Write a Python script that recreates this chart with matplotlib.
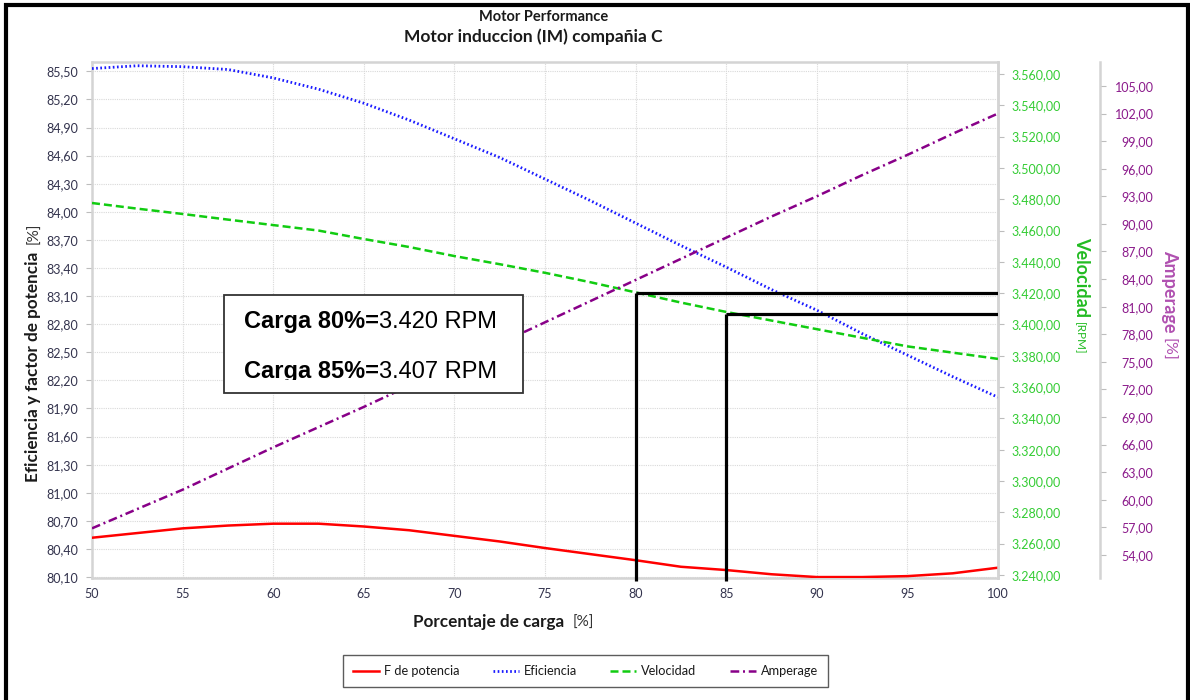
import matplotlib
matplotlib.use('Agg')
import matplotlib.pyplot as plt
import matplotlib.patches as mpatches
from matplotlib.lines import Line2D
from matplotlib.ticker import FixedLocator, FuncFormatter
from matplotlib.transforms import Bbox

# ---------------- data ----------------
carga = [50, 52.5, 55, 57.5, 60, 62.5, 65, 67.5, 70, 72.5, 75,
         77.5, 80, 82.5, 85, 87.5, 90, 92.5, 95, 97.5, 100]
f_potencia = [80.52, 80.57, 80.62, 80.65, 80.67, 80.67, 80.64, 80.60, 80.54, 80.48, 80.41,
              80.345, 80.28, 80.21, 80.175, 80.13, 80.10, 80.10, 80.11, 80.14, 80.20]
eficiencia = [85.53, 85.56, 85.55, 85.52, 85.43, 85.31, 85.16, 84.98, 84.78, 84.58, 84.35,
              84.12, 83.88, 83.64, 83.41, 83.17, 82.95, 82.70, 82.47, 82.24, 82.02]
velocidad = [3477.6, 3474.0, 3470.6, 3467.0, 3463.5, 3460.0, 3454.6, 3449.5, 3443.7, 3438.5, 3433.0,
             3427.0, 3420.5, 3414.0, 3408.0, 3402.5, 3397.0, 3391.5, 3386.0, 3382.0, 3378.0]
amperage = [56.9, 59.0, 61.1, 63.4, 65.7, 67.9, 70.1, 72.4, 74.7, 77.0, 79.3,
            81.6, 83.9, 86.2, 88.5, 90.8, 93.0, 95.3, 97.5, 99.8, 102.0]

x_ticks = [50, 55, 60, 65, 70, 75, 80, 85, 90, 95, 100]
left_ticks = [80.10, 80.40, 80.70, 81.00, 81.30, 81.60, 81.90, 82.20, 82.50, 82.80,
              83.10, 83.40, 83.70, 84.00, 84.30, 84.60, 84.90, 85.20, 85.50]
vel_ticks = [3240, 3260, 3280, 3300, 3320, 3340, 3360, 3380, 3400, 3420,
             3440, 3460, 3480, 3500, 3520, 3540, 3560]
amp_ticks = [54, 57, 60, 63, 66, 69, 72, 75, 78, 81, 84, 87, 90, 93, 96, 99, 102, 105]

marcas_carga = [80, 85]
marcas_rpm = [3420, 3407]

title1 = "Motor Performance"
title2 = "Motor induccion (IM) compañia C"
serie_names = ["F de potencia", "Eficiencia", "Velocidad", "Amperage"]

# ---------------- figure ----------------
W, H = 1190, 700
plt.rcParams['font.family'] = ['Lato', 'DejaVu Sans']
fig = plt.figure(figsize=(W / 100, H / 100), dpi=100)
fig.patch.set_facecolor('white')


def fx(px):
    return px / W


def fy(py):
    return 1 - py / H


L, R, T, B = 92, 998, 62, 578
ax = fig.add_axes([fx(L), fy(B), fx(R) - fx(L), fy(T) - fy(B)])
ax2 = ax.twinx()
ax3 = ax.twinx()
ax3.spines['right'].set_position(('axes', 1 + 102 / (R - L)))

frame_col = '#d4d4d4'
tick_col = '#bdbdbd'
lab_col = '#33334d'
green_txt = '#33cc33'
purple_txt = '#8b1a8b'

for a in (ax, ax2, ax3):
    for s in a.spines.values():
        s.set_color(frame_col)
        s.set_linewidth(1.8)
for a in (ax2, ax3):
    for k in ('top', 'bottom', 'left'):
        a.spines[k].set_visible(False)

# lines
red, = ax.plot(carga, f_potencia, color='#ff0000', lw=1.8, zorder=3)
blue, = ax.plot(carga, eficiencia, color='#1a1aff', lw=2.0, ls=(0, (0.6, 0.9)), zorder=3)
green, = ax2.plot(carga, velocidad, color='#11cc11', lw=1.8, ls=(0, (3.2, 1.6)), zorder=3)
purple, = ax3.plot(carga, amperage, color='#880088', lw=1.8, ls=(0, (3.5, 1.5, 0.8, 1.5)), zorder=3)

# marker lines for 80% and 85%
for c, r in zip(marcas_carga, marcas_rpm):
    ln, = ax2.plot([c, c], [3236, r], color='black', lw=2.3, zorder=6, solid_capstyle='butt')
    ln.set_clip_on(False)
    ax2.plot([c, 100], [r, r], color='black', lw=2.3, zorder=6, solid_capstyle='butt')

ax.set_xlim(50, 100)
ax.set_ylim(80.09, 85.60)
ax2.set_ylim(3238, 3567.7)
ax3.set_ylim(51.5, 107.6)

ax.xaxis.set_major_locator(FixedLocator(x_ticks))
ax.yaxis.set_major_locator(FixedLocator(left_ticks))
ax2.yaxis.set_major_locator(FixedLocator(vel_ticks))
ax3.yaxis.set_major_locator(FixedLocator(amp_ticks))


def fmt_left(v, p):
    return f"{v:.2f}".replace('.', ',')


def fmt_vel(v, p):
    s = f"{v:,.2f}"
    return s.replace(',', 'X').replace('.', ',').replace('X', '.')


ax.xaxis.set_major_formatter(FuncFormatter(lambda v, p: f"{v:g}"))
ax.yaxis.set_major_formatter(FuncFormatter(fmt_left))
ax2.yaxis.set_major_formatter(FuncFormatter(fmt_vel))
ax3.yaxis.set_major_formatter(FuncFormatter(fmt_left))

ax.grid(True, color='#d9d9d9', ls=(0, (1, 1)), lw=0.8)
ax.set_axisbelow(True)

ax.tick_params(axis='x', length=0, pad=7, labelsize=9, labelcolor=lab_col)
ax.tick_params(axis='y', length=4, width=0.8, color=tick_col, pad=6, labelsize=9, labelcolor=lab_col)
ax2.tick_params(axis='y', length=4, width=0.8, color=tick_col, pad=6, labelsize=9, labelcolor=green_txt)
ax3.tick_params(axis='y', length=4, width=0.8, color=tick_col, pad=34.5, labelsize=9, labelcolor=purple_txt)
for t in ax3.get_yticklabels():
    t.set_horizontalalignment('right')

# titles
fig.text(fx(544), fy(17), title1, ha='center', va='center', fontsize=10.5, fontweight='bold', color='#1a1a1a')
fig.text(fx(533), fy(37), title2, ha='center', va='center', fontsize=12.5, fontweight='bold', color='#1a1a1a')

renderer = fig.canvas.get_renderer()


def pair(x, y, t1, t2, kw1, kw2, rotation=0, gap=0):
    if rotation == 0:
        a = fig.text(fx(x), fy(y), t1, ha='left', va='baseline', **kw1)
        bb = a.get_window_extent(renderer)
        b = fig.text((bb.x1 + gap) / W, fy(y), t2, ha='left', va='baseline', **kw2)
    elif rotation == 90:
        a = fig.text(fx(x), fy(y), t1, ha='left', va='baseline', rotation=90,
                     rotation_mode='anchor', **kw1)
        bb = a.get_window_extent(renderer)
        b = fig.text(fx(x), (bb.y1 + gap) / H, t2, ha='left', va='baseline', rotation=90,
                     rotation_mode='anchor', **kw2)
    else:
        a = fig.text(fx(x), fy(y), t1, ha='left', va='baseline', rotation=270,
                     rotation_mode='anchor', **kw1)
        bb = a.get_window_extent(renderer)
        b = fig.text(fx(x), (bb.y0 - gap) / H, t2, ha='left', va='baseline', rotation=270,
                     rotation_mode='anchor', **kw2)
    return a, b


# axis labels
pair(413, 627, "Porcentaje de carga", "[%]",
     dict(fontsize=12.3, fontweight='bold', color='#1a1a1a'),
     dict(fontsize=11, color='#333333'), gap=8)
pair(38, 482, "Eficiencia y factor de potencia", "[%]",
     dict(fontsize=12.3, fontweight='bold', color='#1a1a1a'),
     dict(fontsize=11, color='#333333'), rotation=90, gap=8)
pair(1076, 237, "Velocidad", "[RPM]",
     dict(fontsize=13, fontweight='bold', color='#22bb22'),
     dict(fontsize=8.5, color='#22bb22'), rotation=270, gap=5)
pair(1164, 250, "Amperage", "[%]",
     dict(fontsize=13, fontweight='bold', color='#b050b0'),
     dict(fontsize=11.5, color='#b050b0'), rotation=270, gap=5)

# annotation box
box = mpatches.Rectangle((fx(224), fy(393)), (523 - 224) / W, (393 - 295) / H,
                         transform=fig.transFigure, facecolor='white',
                         edgecolor='#333333', lw=1.3, zorder=10)
fig.add_artist(box)
clip = Bbox.from_extents(224, H - 380, 523, H - 295)
for yb, c, r in [(328, marcas_carga[0], marcas_rpm[0]), (378, marcas_carga[1], marcas_rpm[1])]:
    rtxt = f"{r:,}".replace(',', '.') + " RPM"
    a, b = pair(244, yb, f"Carga {c}%=", rtxt,
                dict(fontsize=17, fontweight='bold', color='black', family='Liberation Sans', zorder=11),
                dict(fontsize=17, color='black', family='Liberation Sans', zorder=11))
    for t in (a, b):
        t.set_clip_box(clip)
        t.set_clip_on(True)

# legend
handles = [Line2D([], [], color=red.get_color(), lw=1.8),
           Line2D([], [], color=blue.get_color(), lw=2.0, ls=(0, (0.6, 0.9))),
           Line2D([], [], color=green.get_color(), lw=1.8, ls=(0, (3.2, 1.6))),
           Line2D([], [], color=purple.get_color(), lw=1.8, ls=(0, (3.5, 1.5, 0.8, 1.5)))]
leg = fig.legend(handles, serie_names, loc='center', ncol=4,
                 bbox_to_anchor=(fx(343), fy(690), (828 - 343) / W, (690 - 652) / H),
                 mode='expand', borderaxespad=0, frameon=True, fancybox=False,
                 edgecolor='#333333', handlelength=2.0, handletextpad=0.4,
                 borderpad=0.8, prop={'size': 9.2})
leg.get_frame().set_linewidth(1.0)
for t in leg.get_texts():
    t.set_color('#1a1a1a')

# outer border
border = mpatches.Rectangle((fx(5.5), fy(720)), (1188 - 5.5) / W, (720 - 5) / H,
                            transform=fig.transFigure, facecolor='none',
                            edgecolor='black', lw=3.0, clip_on=False, zorder=20)
fig.add_artist(border)

fig.savefig('out.png', dpi=100)
